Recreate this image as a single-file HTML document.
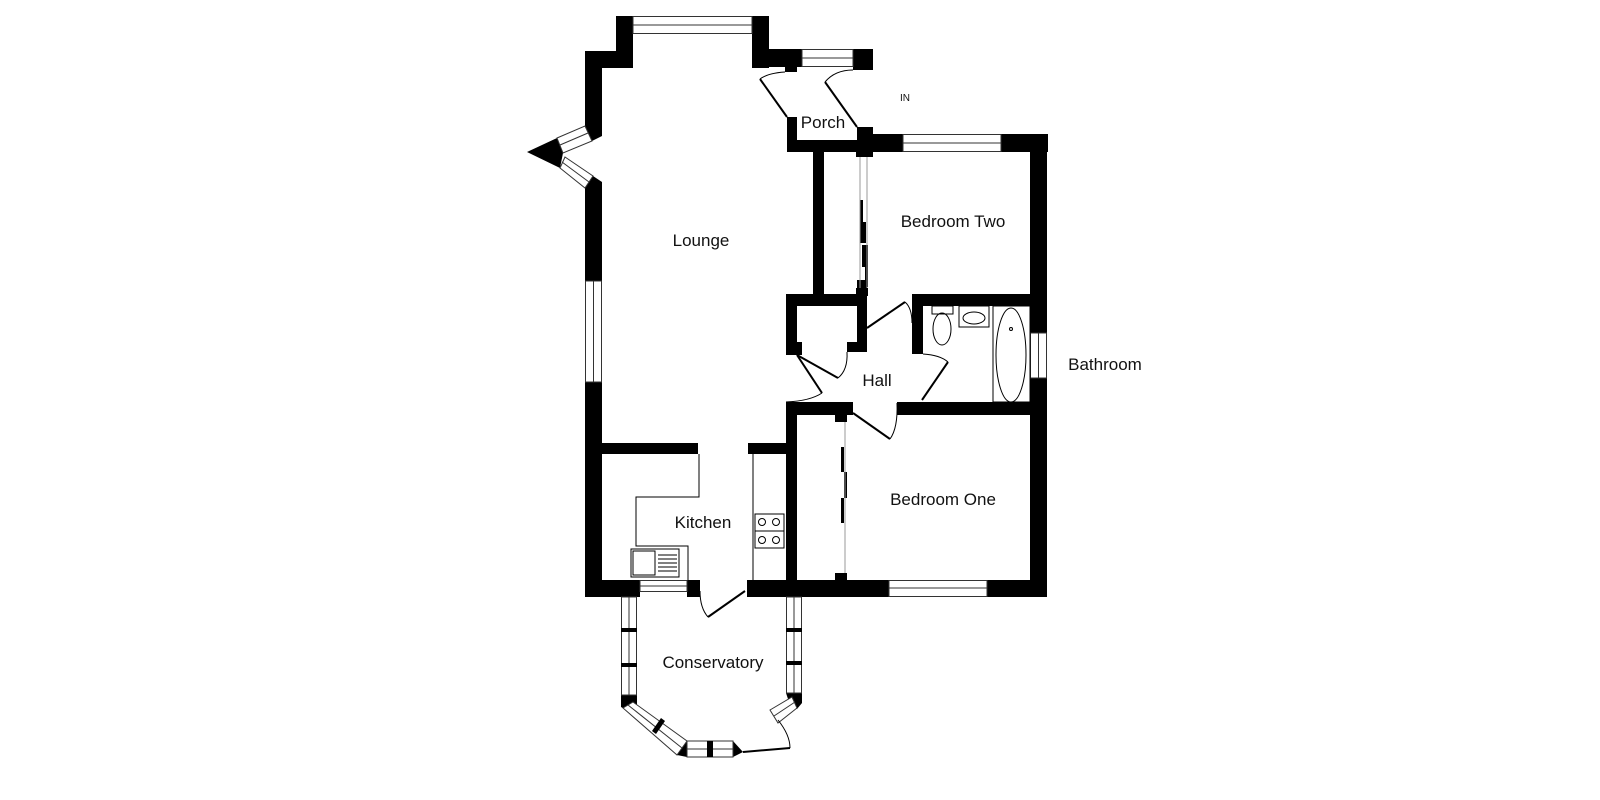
<!DOCTYPE html>
<html><head><meta charset="utf-8"><style>
html,body{margin:0;padding:0;background:#fff;}
svg{display:block;}
text{font-family:"Liberation Sans",Arial,sans-serif;fill:#111;}
</style></head><body>
<svg width="1600" height="800" viewBox="0 0 1600 800" xmlns="http://www.w3.org/2000/svg">
<g fill="#000" stroke="none">
<rect x="616" y="16" width="17" height="52"/>
<rect x="752" y="16" width="17" height="52"/>
<rect x="585" y="51" width="48" height="17"/>
<rect x="752" y="49" width="50" height="18"/>
<rect x="853" y="49" width="20" height="21"/>
<rect x="785" y="66" width="12" height="6"/>
<polygon points="585,51 602,51 602,136 592,141 585,126"/>
<polygon points="527,152 557,138 563,153 560,168"/>
<polygon points="585,188 593,176 602,182 602,281 585,281"/>
<rect x="585" y="382" width="17" height="215"/>
<rect x="787" y="117" width="10" height="35"/>
<rect x="787" y="140" width="86" height="12"/>
<rect x="857" y="127" width="16" height="30"/>
<rect x="873" y="134" width="30" height="18"/>
<rect x="1001" y="134" width="47" height="18"/>
<rect x="1030" y="134" width="17" height="199"/>
<rect x="1030" y="378" width="17" height="219"/>
<rect x="813" y="152" width="11" height="147"/>
<rect x="856" y="152" width="12" height="5"/>
<rect x="856" y="288" width="12" height="8"/>
<rect x="860" y="200" width="3" height="43"/>
<rect x="863" y="222" width="3" height="21"/>
<rect x="862" y="245" width="3" height="22"/>
<rect x="865" y="245" width="3" height="42"/>
<rect x="786" y="294" width="81" height="12"/>
<rect x="786" y="294" width="11" height="61"/>
<rect x="786" y="342" width="16" height="13"/>
<rect x="857" y="280" width="10" height="72"/>
<rect x="847" y="342" width="20" height="10"/>
<rect x="912" y="294" width="11" height="60"/>
<rect x="912" y="294" width="135" height="12"/>
<rect x="786" y="402" width="67" height="13"/>
<rect x="897" y="402" width="150" height="13"/>
<rect x="786" y="402" width="11" height="195"/>
<rect x="835" y="415" width="12" height="7"/>
<rect x="835" y="573" width="12" height="7"/>
<rect x="841" y="447" width="3" height="25"/>
<rect x="844" y="472" width="3" height="26"/>
<rect x="841" y="498" width="3" height="25"/>
<rect x="602" y="443" width="96" height="11"/>
<rect x="748" y="443" width="38" height="11"/>
<rect x="585" y="580" width="55" height="17"/>
<rect x="687" y="580" width="13" height="17"/>
<rect x="747" y="580" width="142" height="17"/>
<rect x="987" y="580" width="60" height="17"/>
<polygon points="621,695 637,695 637,704 632,713 621,707"/>
<polygon points="786,693 802,693 802,703 797,709 790,705"/>
<polygon points="677,755 687,741 687,757"/>
<polygon points="733,741 743,752 733,757"/>
</g>
<g fill="#fff" stroke="#333" stroke-width="1">
<rect x="633" y="16.5" width="119" height="17"/>
<line x1="633" y1="25" x2="752" y2="25"/>
<rect x="802" y="49.5" width="51" height="17"/>
<line x1="802" y1="58" x2="853" y2="58"/>
<rect x="903" y="134.5" width="98" height="17"/>
<line x1="903" y1="143" x2="1001" y2="143"/>
<rect x="585.5" y="281" width="16" height="101"/>
<line x1="593.5" y1="281" x2="593.5" y2="382"/>
<rect x="1030.5" y="333" width="16" height="45"/>
<line x1="1038.5" y1="333" x2="1038.5" y2="378"/>
<rect x="640" y="580.5" width="47" height="11"/>
<line x1="640" y1="586" x2="687" y2="586"/>
<rect x="889" y="580.5" width="98" height="16"/>
<line x1="889" y1="588" x2="987" y2="588"/>
<polygon points="557,138 585,126 592,141 563,153"/>
<line x1="560" y1="145" x2="588" y2="133"/>
<polygon points="565,157 593,176 585,188 560,168"/>
<line x1="562" y1="162" x2="589" y2="182"/>
<rect x="621.5" y="597" width="15" height="98"/>
<line x1="629" y1="597" x2="629" y2="695"/>
<rect x="786.5" y="597" width="15" height="96"/>
<line x1="794" y1="597" x2="794" y2="693"/>
<polygon points="623,708 633,702 687,741 677,755"/>
<line x1="628" y1="705" x2="682" y2="748"/>
<rect x="687" y="741" width="46" height="16"/>
<line x1="687" y1="749" x2="733" y2="749"/>
<polygon points="770,710 792,697 797,708 778,723"/>
<line x1="774" y1="716" x2="795" y2="702"/>
</g>
<g fill="#000">
<rect x="707" y="741" width="6" height="16"/>
<polygon points="652,731 661,718 665,721 656,734"/>
<rect x="621" y="628" width="16" height="4"/>
<rect x="621" y="663" width="16" height="4"/>
<rect x="786" y="628" width="16" height="4"/>
<rect x="786" y="661" width="16" height="4"/>
</g>
<g fill="none" stroke="#000" stroke-width="1">
<line x1="860" y1="157" x2="860" y2="288" stroke="#999"/>
<line x1="867" y1="157" x2="867" y2="288" stroke="#999"/>
<line x1="845" y1="422" x2="845" y2="573" stroke="#999"/>
<polyline points="699,454 699,497 636,497 636,546 688,546 688,580"/>
<line x1="753" y1="454" x2="753" y2="580"/>
<rect x="755" y="514" width="29" height="17"/>
<rect x="755" y="531" width="29" height="17"/>
<circle cx="762" cy="522" r="3.5"/><circle cx="776" cy="522" r="3.5"/>
<circle cx="762" cy="540" r="3.5"/><circle cx="776" cy="540" r="3.5"/>
<rect x="631" y="549" width="48" height="28"/>
<rect x="633" y="551" width="22" height="24"/>
<line x1="658" y1="555" x2="677" y2="555"/><line x1="658" y1="559" x2="677" y2="559"/>
<line x1="658" y1="563" x2="677" y2="563"/><line x1="658" y1="567" x2="677" y2="567"/>
<line x1="658" y1="571" x2="677" y2="571"/>
<rect x="932" y="306" width="21" height="8"/>
<ellipse cx="942" cy="329" rx="9" ry="16"/>
<rect x="959" y="306" width="30" height="21"/>
<ellipse cx="974" cy="318" rx="11" ry="6"/>
<rect x="993" y="306" width="37" height="96"/>
<ellipse cx="1011" cy="355" rx="15" ry="47"/>
<circle cx="1011" cy="329" r="1.5"/>
<path d="M853,70 Q835,70 825,82"/>
<path d="M785,72 Q768,73 760,79"/>
<path d="M847,352 Q848,370 838,378"/>
<path d="M786,402 Q810,401 822,393"/>
<path d="M912,323 Q912,308 905,302"/>
<path d="M923,354 Q940,355 948,362"/>
<path d="M897,403 Q898,428 890,439"/>
<path d="M700,591 Q700,608 708,617"/>
<path d="M778,720 Q790,735 790,748"/>
</g>
<g stroke="#000" stroke-width="2" fill="none">
<line x1="857" y1="127" x2="825" y2="82"/>
<line x1="787" y1="117" x2="760" y2="79"/>
<line x1="797" y1="355" x2="838" y2="378"/>
<line x1="797" y1="355" x2="822" y2="393"/>
<line x1="867" y1="328" x2="905" y2="302"/>
<line x1="922" y1="400" x2="948" y2="362"/>
<line x1="853" y1="413" x2="890" y2="439"/>
<line x1="745" y1="591" x2="708" y2="617"/>
<line x1="743" y1="752" x2="790" y2="748"/>
</g>
<g font-size="17" text-anchor="middle">
<text x="701" y="246">Lounge</text>
<text x="823" y="128">Porch</text>
<text x="953" y="227">Bedroom Two</text>
<text x="877" y="386">Hall</text>
<text x="1105" y="370">Bathroom</text>
<text x="703" y="528">Kitchen</text>
<text x="943" y="505">Bedroom One</text>
<text x="713" y="668">Conservatory</text>
<text x="905" y="101" font-size="10">IN</text>
</g>
</svg>
</body></html>
